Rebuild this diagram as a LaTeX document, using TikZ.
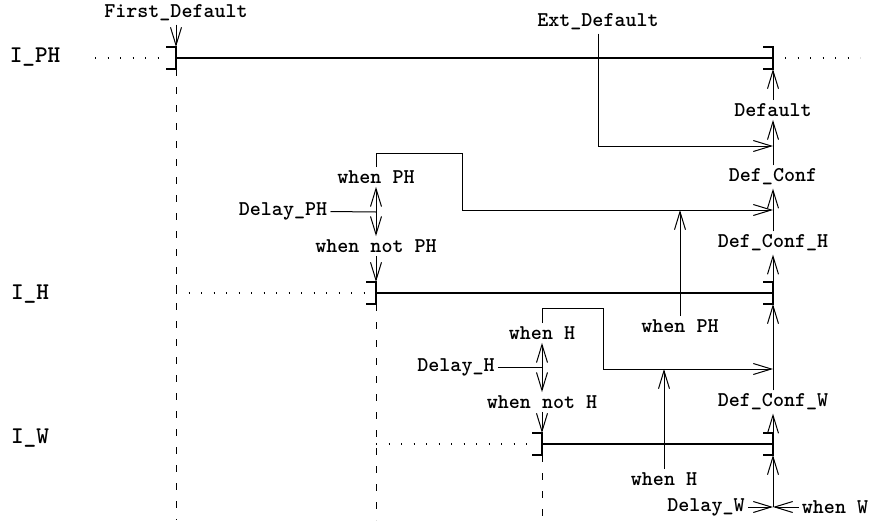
\documentclass[tikz,border=0pt]{standalone}
\usepackage{tikz}
\usetikzlibrary{arrows.meta, calc}
\tikzset{
  lbl/.style={font=\fontsize{10.5}{12}\selectfont\ttfamily\bfseries, inner sep=1.5pt},
  sig/.style={font=\fontsize{12}{14}\selectfont\ttfamily\bfseries, inner sep=1pt},
  arrow/.style={-{Straight Barb[length=9pt,width=5.5pt]}, line width=0.5pt},
  line/.style={line width=0.5pt},
  phase/.style={line width=1pt},
  guide/.style={line width=0.5pt, dash pattern=on 3.5pt off 5.5pt},
  idle/.style={line width=0.7pt, dash pattern=on 0.7pt off 5.55pt}
}
% phase bracket: name, position
\newcommand{\phasebracket}[2]{%
  \coordinate (#1) at (#2);
  \coordinate (#1t) at ($(#1)+(0,-11)$);
  \coordinate (#1b) at ($(#1)+(0,11)$);
  \draw[phase] ($(#1t)+(-10,0)$) -- (#1t) -- (#1b) -- ($(#1b)+(-10,0)$);
}
\begin{document}
\begin{tikzpicture}[x=0.5pt, y=-0.5pt]
  \useasboundingbox (0,0) rectangle (869,525);
  \coordinate (bottom) at (0,520);

  % signals
  \node[sig] (IPH) at (35,57) {I\_PH};
  \node[sig] (IH) at (30,294) {I\_H};
  \node[sig] (IW) at (30,438) {I\_W};

  % phases
  \phasebracket{PHl}{176,58}
  \phasebracket{PHr}{773,58}
  \phasebracket{Hl}{376,293}
  \phasebracket{Hr}{773,293}
  \phasebracket{Wl}{542,444}
  \phasebracket{Wr}{773,444}
  \draw[phase] (PHl) -- (PHr);
  \draw[phase] (Hl) -- (Hr);
  \draw[phase] (Wl) -- (Wr);
  \draw[idle] ($(PHl)+(-81,0)$) -- ($(PHl)+(-9,0)$);
  \draw[idle] ($(PHr)+(12,0)$) -- ($(PHr)+(87,0)$);
  \draw[idle] (PHl |- Hl) -- ($(Hl)+(-9,0)$);
  \draw[idle] (Hl |- Wl) -- ($(Wl)+(-9,0)$);
  \draw[guide] (PHlb) -- (PHlb |- bottom);
  \draw[guide] (Hlb) -- (Hlb |- bottom);
  \draw[guide] (Wlb) -- (Wlb |- bottom);

  % defaults
  \node[lbl] (firstdef) at (176,13) {First\_Default};
  \draw[arrow] (firstdef) -- (PHlt);
  \node[lbl] (extdef) at (598,22) {Ext\_Default};
  \coordinate (extin) at (773,146);
  \draw[arrow] (extdef) |- (extin);

  % right chain
  \node[lbl] (default) at (773,110) {Default};
  \node[lbl] (defconf) at (773,177) {Def\_Conf};
  \node[lbl] (defconfH) at (773,243) {Def\_Conf\_H};
  \node[lbl] (defconfW) at (773,402) {Def\_Conf\_W};
  \coordinate (wjoin) at (773,507);
  \draw[arrow] (default) -- (PHrb);
  \draw[arrow] (defconf) -- (default);
  \draw[arrow] (defconfH) -- (defconf);
  \draw[arrow] (Hrt) -- (defconfH);
  \draw[arrow] (defconfW) -- (Hrb);
  \draw[arrow] (Wrt) -- (defconfW);
  \draw[arrow] (wjoin) -- (Wrb);
  \node[lbl] (delayW) at (706,507) {Delay\_W};
  \node[lbl] (whenW) at (835,507) {when W};
  \draw[arrow] (delayW) -- (wjoin);
  \draw[arrow] (whenW) -- (wjoin);

  % delay PH
  \node[lbl] (delayPH) at (283,211) {Delay\_PH};
  \node[lbl] (whenPH) at (376,177) {when PH};
  \node[lbl] (whennotPH) at (376,246) {when not PH};
  \coordinate (PHsplit) at (376,212);
  \draw[line] (delayPH) -- (PHsplit);
  \draw[arrow] (PHsplit) -- (whenPH);
  \draw[arrow] (PHsplit) -- (whennotPH);
  \draw[arrow] (whennotPH) -- (Hlt);
  \coordinate (phin) at (773,210);
  \draw[arrow] (whenPH.north) |- (462,153) |- (phin);
  \node[lbl] (whenPHb) at (680,326) {when PH};
  \coordinate (phtap) at (680,210);
  \draw[arrow] (whenPHb) -- (phtap);

  % delay H
  \node[lbl] (delayH) at (456,367) {Delay\_H};
  \node[lbl] (whenH) at (542,333) {when H};
  \node[lbl] (whennotH) at (542,402) {when not H};
  \coordinate (Hsplit) at (542,367);
  \draw[line] (delayH) -- (Hsplit);
  \draw[arrow] (Hsplit) -- (whenH);
  \draw[arrow] (Hsplit) -- (whennotH);
  \draw[arrow] (whennotH) -- (Wlt);
  \coordinate (hin) at (773,369);
  \draw[arrow] (whenH.north) |- (603,308) |- (hin);
  \node[lbl] (whenHb) at (664,479) {when H};
  \coordinate (htap) at (664,369);
  \draw[arrow] (whenHb) -- (htap);
\end{tikzpicture}
\end{document}
